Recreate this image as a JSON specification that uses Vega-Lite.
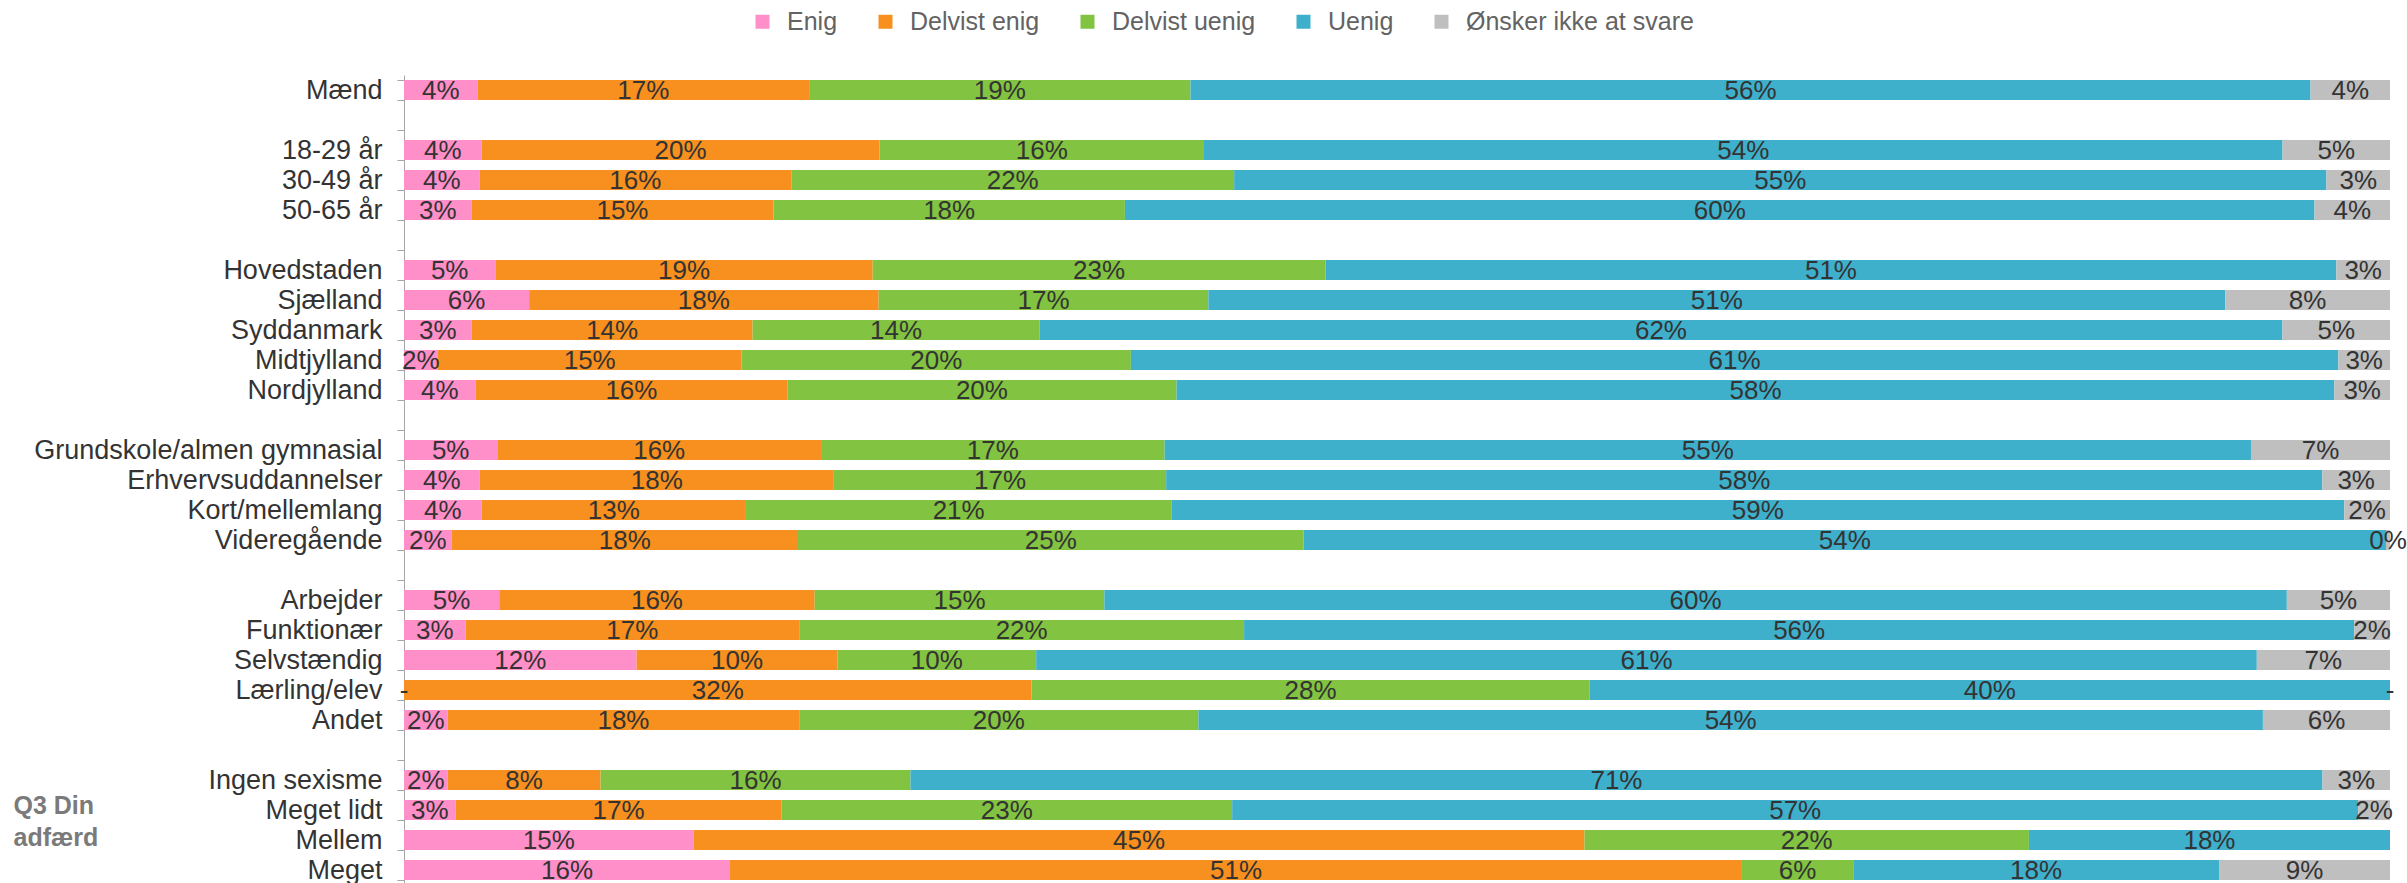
{
  "$schema": "https://vega.github.io/schema/vega-lite/v6.json",
  "autosize": {"type": "none"},
  "padding": {"left": 404, "top": 75, "right": 17, "bottom": 0},
  "width": 1986,
  "height": 810,
  "config": {
    "view": {"stroke": null},
    "font": "Liberation Sans"
  },
  "data": {
    "values": [
      {"g": "Mænd", "k": 1, "a": "Enig", "v": 3.7, "t": "4%"},
      {"g": "Mænd", "k": 2, "a": "Delvist enig", "v": 16.7, "t": "17%"},
      {"g": "Mænd", "k": 3, "a": "Delvist uenig", "v": 19.2, "t": "19%"},
      {"g": "Mænd", "k": 4, "a": "Uenig", "v": 56.4, "t": "56%"},
      {"g": "Mænd", "k": 5, "a": "Ønsker ikke at svare", "v": 4.0, "t": "4%"},
      {"g": "18-29 år", "k": 1, "a": "Enig", "v": 3.9, "t": "4%"},
      {"g": "18-29 år", "k": 2, "a": "Delvist enig", "v": 20.0, "t": "20%"},
      {"g": "18-29 år", "k": 3, "a": "Delvist uenig", "v": 16.3, "t": "16%"},
      {"g": "18-29 år", "k": 4, "a": "Uenig", "v": 54.2, "t": "54%"},
      {"g": "18-29 år", "k": 5, "a": "Ønsker ikke at svare", "v": 5.4, "t": "5%"},
      {"g": "30-49 år", "k": 1, "a": "Enig", "v": 3.8, "t": "4%"},
      {"g": "30-49 år", "k": 2, "a": "Delvist enig", "v": 15.7, "t": "16%"},
      {"g": "30-49 år", "k": 3, "a": "Delvist uenig", "v": 22.3, "t": "22%"},
      {"g": "30-49 år", "k": 4, "a": "Uenig", "v": 55.0, "t": "55%"},
      {"g": "30-49 år", "k": 5, "a": "Ønsker ikke at svare", "v": 3.2, "t": "3%"},
      {"g": "50-65 år", "k": 1, "a": "Enig", "v": 3.4, "t": "3%"},
      {"g": "50-65 år", "k": 2, "a": "Delvist enig", "v": 15.2, "t": "15%"},
      {"g": "50-65 år", "k": 3, "a": "Delvist uenig", "v": 17.7, "t": "18%"},
      {"g": "50-65 år", "k": 4, "a": "Uenig", "v": 59.9, "t": "60%"},
      {"g": "50-65 år", "k": 5, "a": "Ønsker ikke at svare", "v": 3.8, "t": "4%"},
      {"g": "Hovedstaden", "k": 1, "a": "Enig", "v": 4.6, "t": "5%"},
      {"g": "Hovedstaden", "k": 2, "a": "Delvist enig", "v": 19.0, "t": "19%"},
      {"g": "Hovedstaden", "k": 3, "a": "Delvist uenig", "v": 22.8, "t": "23%"},
      {"g": "Hovedstaden", "k": 4, "a": "Uenig", "v": 50.9, "t": "51%"},
      {"g": "Hovedstaden", "k": 5, "a": "Ønsker ikke at svare", "v": 2.7, "t": "3%"},
      {"g": "Sjælland", "k": 1, "a": "Enig", "v": 6.3, "t": "6%"},
      {"g": "Sjælland", "k": 2, "a": "Delvist enig", "v": 17.6, "t": "18%"},
      {"g": "Sjælland", "k": 3, "a": "Delvist uenig", "v": 16.6, "t": "17%"},
      {"g": "Sjælland", "k": 4, "a": "Uenig", "v": 51.2, "t": "51%"},
      {"g": "Sjælland", "k": 5, "a": "Ønsker ikke at svare", "v": 8.3, "t": "8%"},
      {"g": "Syddanmark", "k": 1, "a": "Enig", "v": 3.4, "t": "3%"},
      {"g": "Syddanmark", "k": 2, "a": "Delvist enig", "v": 14.1, "t": "14%"},
      {"g": "Syddanmark", "k": 3, "a": "Delvist uenig", "v": 14.4, "t": "14%"},
      {"g": "Syddanmark", "k": 4, "a": "Uenig", "v": 62.4, "t": "62%"},
      {"g": "Syddanmark", "k": 5, "a": "Ønsker ikke at svare", "v": 5.4, "t": "5%"},
      {"g": "Midtjylland", "k": 1, "a": "Enig", "v": 1.7, "t": "2%"},
      {"g": "Midtjylland", "k": 2, "a": "Delvist enig", "v": 15.3, "t": "15%"},
      {"g": "Midtjylland", "k": 3, "a": "Delvist uenig", "v": 19.6, "t": "20%"},
      {"g": "Midtjylland", "k": 4, "a": "Uenig", "v": 60.8, "t": "61%"},
      {"g": "Midtjylland", "k": 5, "a": "Ønsker ikke at svare", "v": 2.6, "t": "3%"},
      {"g": "Nordjylland", "k": 1, "a": "Enig", "v": 3.6, "t": "4%"},
      {"g": "Nordjylland", "k": 2, "a": "Delvist enig", "v": 15.7, "t": "16%"},
      {"g": "Nordjylland", "k": 3, "a": "Delvist uenig", "v": 19.6, "t": "20%"},
      {"g": "Nordjylland", "k": 4, "a": "Uenig", "v": 58.3, "t": "58%"},
      {"g": "Nordjylland", "k": 5, "a": "Ønsker ikke at svare", "v": 2.8, "t": "3%"},
      {"g": "Grundskole/almen gymnasial", "k": 1, "a": "Enig", "v": 4.7, "t": "5%"},
      {"g": "Grundskole/almen gymnasial", "k": 2, "a": "Delvist enig", "v": 16.3, "t": "16%"},
      {"g": "Grundskole/almen gymnasial", "k": 3, "a": "Delvist uenig", "v": 17.3, "t": "17%"},
      {"g": "Grundskole/almen gymnasial", "k": 4, "a": "Uenig", "v": 54.7, "t": "55%"},
      {"g": "Grundskole/almen gymnasial", "k": 5, "a": "Ønsker ikke at svare", "v": 7.0, "t": "7%"},
      {"g": "Erhvervsuddannelser", "k": 1, "a": "Enig", "v": 3.8, "t": "4%"},
      {"g": "Erhvervsuddannelser", "k": 2, "a": "Delvist enig", "v": 17.8, "t": "18%"},
      {"g": "Erhvervsuddannelser", "k": 3, "a": "Delvist uenig", "v": 16.7, "t": "17%"},
      {"g": "Erhvervsuddannelser", "k": 4, "a": "Uenig", "v": 58.1, "t": "58%"},
      {"g": "Erhvervsuddannelser", "k": 5, "a": "Ønsker ikke at svare", "v": 3.4, "t": "3%"},
      {"g": "Kort/mellemlang", "k": 1, "a": "Enig", "v": 3.9, "t": "4%"},
      {"g": "Kort/mellemlang", "k": 2, "a": "Delvist enig", "v": 13.3, "t": "13%"},
      {"g": "Kort/mellemlang", "k": 3, "a": "Delvist uenig", "v": 21.4, "t": "21%"},
      {"g": "Kort/mellemlang", "k": 4, "a": "Uenig", "v": 59.0, "t": "59%"},
      {"g": "Kort/mellemlang", "k": 5, "a": "Ønsker ikke at svare", "v": 2.3, "t": "2%"},
      {"g": "Videregående", "k": 1, "a": "Enig", "v": 2.4, "t": "2%"},
      {"g": "Videregående", "k": 2, "a": "Delvist enig", "v": 17.4, "t": "18%"},
      {"g": "Videregående", "k": 3, "a": "Delvist uenig", "v": 25.4, "t": "25%"},
      {"g": "Videregående", "k": 4, "a": "Uenig", "v": 54.4, "t": "54%"},
      {"g": "Videregående", "k": 5, "a": "Ønsker ikke at svare", "v": 0.2, "t": "0%"},
      {"g": "Arbejder", "k": 1, "a": "Enig", "v": 4.8, "t": "5%"},
      {"g": "Arbejder", "k": 2, "a": "Delvist enig", "v": 15.9, "t": "16%"},
      {"g": "Arbejder", "k": 3, "a": "Delvist uenig", "v": 14.6, "t": "15%"},
      {"g": "Arbejder", "k": 4, "a": "Uenig", "v": 59.6, "t": "60%"},
      {"g": "Arbejder", "k": 5, "a": "Ønsker ikke at svare", "v": 5.2, "t": "5%"},
      {"g": "Funktionær", "k": 1, "a": "Enig", "v": 3.1, "t": "3%"},
      {"g": "Funktionær", "k": 2, "a": "Delvist enig", "v": 16.8, "t": "17%"},
      {"g": "Funktionær", "k": 3, "a": "Delvist uenig", "v": 22.4, "t": "22%"},
      {"g": "Funktionær", "k": 4, "a": "Uenig", "v": 55.9, "t": "56%"},
      {"g": "Funktionær", "k": 5, "a": "Ønsker ikke at svare", "v": 1.8, "t": "2%"},
      {"g": "Selvstændig", "k": 1, "a": "Enig", "v": 11.7, "t": "12%"},
      {"g": "Selvstændig", "k": 2, "a": "Delvist enig", "v": 10.1, "t": "10%"},
      {"g": "Selvstændig", "k": 3, "a": "Delvist uenig", "v": 10.0, "t": "10%"},
      {"g": "Selvstændig", "k": 4, "a": "Uenig", "v": 61.4, "t": "61%"},
      {"g": "Selvstændig", "k": 5, "a": "Ønsker ikke at svare", "v": 6.7, "t": "7%"},
      {"g": "Lærling/elev", "k": 1, "a": "Enig", "v": 0, "t": "-"},
      {"g": "Lærling/elev", "k": 2, "a": "Delvist enig", "v": 31.6, "t": "32%"},
      {"g": "Lærling/elev", "k": 3, "a": "Delvist uenig", "v": 28.1, "t": "28%"},
      {"g": "Lærling/elev", "k": 4, "a": "Uenig", "v": 40.3, "t": "40%"},
      {"g": "Lærling/elev", "k": 5, "a": "Ønsker ikke at svare", "v": 0, "t": "-"},
      {"g": "Andet", "k": 1, "a": "Enig", "v": 2.2, "t": "2%"},
      {"g": "Andet", "k": 2, "a": "Delvist enig", "v": 17.7, "t": "18%"},
      {"g": "Andet", "k": 3, "a": "Delvist uenig", "v": 20.1, "t": "20%"},
      {"g": "Andet", "k": 4, "a": "Uenig", "v": 53.6, "t": "54%"},
      {"g": "Andet", "k": 5, "a": "Ønsker ikke at svare", "v": 6.4, "t": "6%"},
      {"g": "Ingen sexisme", "k": 1, "a": "Enig", "v": 2.2, "t": "2%"},
      {"g": "Ingen sexisme", "k": 2, "a": "Delvist enig", "v": 7.7, "t": "8%"},
      {"g": "Ingen sexisme", "k": 3, "a": "Delvist uenig", "v": 15.6, "t": "16%"},
      {"g": "Ingen sexisme", "k": 4, "a": "Uenig", "v": 71.1, "t": "71%"},
      {"g": "Ingen sexisme", "k": 5, "a": "Ønsker ikke at svare", "v": 3.4, "t": "3%"},
      {"g": "Meget lidt", "k": 1, "a": "Enig", "v": 2.6, "t": "3%"},
      {"g": "Meget lidt", "k": 2, "a": "Delvist enig", "v": 16.4, "t": "17%"},
      {"g": "Meget lidt", "k": 3, "a": "Delvist uenig", "v": 22.7, "t": "23%"},
      {"g": "Meget lidt", "k": 4, "a": "Uenig", "v": 56.7, "t": "57%"},
      {"g": "Meget lidt", "k": 5, "a": "Ønsker ikke at svare", "v": 1.6, "t": "2%"},
      {"g": "Mellem", "k": 1, "a": "Enig", "v": 14.6, "t": "15%"},
      {"g": "Mellem", "k": 2, "a": "Delvist enig", "v": 44.9, "t": "45%"},
      {"g": "Mellem", "k": 3, "a": "Delvist uenig", "v": 22.4, "t": "22%"},
      {"g": "Mellem", "k": 4, "a": "Uenig", "v": 18.2, "t": "18%"},
      {"g": "Meget", "k": 1, "a": "Enig", "v": 16.4, "t": "16%"},
      {"g": "Meget", "k": 2, "a": "Delvist enig", "v": 50.9, "t": "51%"},
      {"g": "Meget", "k": 3, "a": "Delvist uenig", "v": 5.6, "t": "6%"},
      {"g": "Meget", "k": 4, "a": "Uenig", "v": 18.4, "t": "18%"},
      {"g": "Meget", "k": 5, "a": "Ønsker ikke at svare", "v": 8.6, "t": "9%"}
    ]
  },
  "encoding": {
    "y": {
      "field": "g",
      "type": "nominal",
      "scale": {
        "domain": ["Mænd", " ", "18-29 år", "30-49 år", "50-65 år", "  ", "Hovedstaden", "Sjælland", "Syddanmark", "Midtjylland", "Nordjylland", "   ", "Grundskole/almen gymnasial", "Erhvervsuddannelser", "Kort/mellemlang", "Videregående", "    ", "Arbejder", "Funktionær", "Selvstændig", "Lærling/elev", "Andet", "     ", "Ingen sexisme", "Meget lidt", "Mellem", "Meget"],
        "paddingInner": 0.33,
        "paddingOuter": 0.165
      },
      "axis": {
        "title": ["Q3 Din", "adfærd"],
        "titleAngle": 0,
        "titleAlign": "left",
        "titleBaseline": "alphabetic",
        "titleX": -391,
        "titleY": 738,
        "titleLineHeight": 32,
        "titleFontSize": 25,
        "titleFontWeight": "bold",
        "titleColor": "#7a7a7a",
        "titleFont": "Liberation Sans",
        "labelFontSize": 27,
        "labelColor": "#333333",
        "labelFont": "Liberation Sans",
        "labelPadding": 15,
        "tickSize": 7,
        "tickColor": "#a6a6a6",
        "domainColor": "#a6a6a6",
        "tickBand": "extent",
        "grid": false,
        "labelLimit": 0
      }
    },
    "x": {
      "field": "v",
      "type": "quantitative",
      "stack": "normalize",
      "axis": null
    },
    "order": {"field": "k", "type": "quantitative", "sort": "ascending"}
  },
  "layer": [
    {
      "mark": {"type": "bar"},
      "encoding": {
        "color": {
          "field": "a",
          "type": "nominal",
          "scale": {
            "domain": ["Enig", "Delvist enig", "Delvist uenig", "Uenig", "Ønsker ikke at svare"],
            "range": ["#ff8fc8", "#f7901e", "#82c341", "#3fb0cc", "#bfbfbf"]
          },
          "legend": {
            "title": null,
            "orient": "none",
            "direction": "horizontal",
            "legendX": 346,
            "legendY": -66,
            "symbolType": "square",
            "symbolSize": 196,
            "symbolStrokeWidth": 0,
            "symbolOpacity": 1,
            "labelFontSize": 25,
            "labelColor": "#636363",
            "labelFont": "Liberation Sans",
            "labelOffset": 12,
            "columnPadding": 35,
            "padding": 0,
            "labelLimit": 0
          }
        }
      }
    },
    {
      "mark": {"type": "text", "fontSize": 26, "color": "#333333", "font": "Liberation Sans", "align": "center", "baseline": "middle", "dy": 1},
      "encoding": {
        "x": {
          "field": "v",
          "type": "quantitative",
          "stack": "normalize",
          "bandPosition": 0.5,
          "axis": null
        },
        "detail": {"field": "a", "type": "nominal"},
        "text": {"field": "t", "type": "nominal"}
      }
    }
  ]
}
